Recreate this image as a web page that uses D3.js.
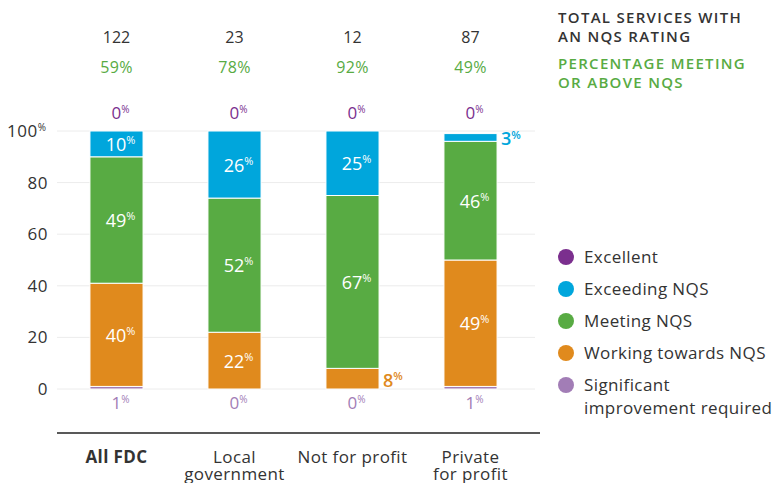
<!DOCTYPE html>
<html>
<head>
<meta charset="utf-8">
<script src="https://cdn.jsdelivr.net/npm/d3@7"></script>
<style>
  body { margin: 0; background: #fff; }
  svg { font-family: "Open Sans", sans-serif; }
</style>
</head>
<body>
<div id="chart"></div>
<script>
var categories = ["All FDC", "Local government", "Not for profit", "Private for profit"];
var catLines = [["All FDC"], ["Local", "government"], ["Not for profit"], ["Private", "for profit"]];
var totals = [122, 23, 12, 87];
var meetingPct = ["59%", "78%", "92%", "49%"];
var seriesNames = ["Significant improvement required", "Working towards NQS", "Meeting NQS", "Exceeding NQS", "Excellent"];
var significant = [1, 0, 0, 1];
var working = [40, 22, 8, 49];
var meeting = [49, 52, 67, 46];
var exceeding = [10, 26, 25, 3];
var excellent = [0, 0, 0, 0];
var yTicks = [0, 20, 40, 60, 80, 100];
var legendItems = ["Excellent", "Exceeding NQS", "Meeting NQS", "Working towards NQS", "Significant"];

var colors = {
    "Excellent": "#7b2f8e",
    "Exceeding NQS": "#00a6dc",
    "Meeting NQS": "#58ab43",
    "Working towards NQS": "#e08a1d",
    "Significant improvement required": "#a27db6"
};

var width = 772, height = 483;
var svg = d3.select("#chart").append("svg")
    .attr("width", width).attr("height", height);

var rows = categories.map(function (c, i) {
    return {
        cat: c,
        "Significant improvement required": significant[i],
        "Working towards NQS": working[i],
        "Meeting NQS": meeting[i],
        "Exceeding NQS": exceeding[i],
        "Excellent": excellent[i]
    };
});

var x = d3.scaleBand().domain(categories).range([57.5, 529.5]).paddingInner(0.55).paddingOuter(0.275);
var y = d3.scaleLinear().domain([0, 100]).range([389, 131]);

// gridlines
svg.append("g").selectAll("line").data(yTicks).enter().append("line")
    .attr("x1", 57).attr("x2", 535)
    .attr("y1", function (d) { return y(d); }).attr("y2", function (d) { return y(d); })
    .attr("stroke", "#ececec").attr("stroke-width", 1);

// y tick labels
var yt = svg.append("g").selectAll("text").data(yTicks).enter().append("text")
    .attr("x", 48)
    .attr("y", function (d) { return y(d) + 6; })
    .attr("text-anchor", "end")
    .attr("font-size", 17).attr("fill", "#333").attr("letter-spacing", 0.5)
    .text(function (d) { return d; });
yt.filter(function (d) { return d === 100; }).append("tspan")
    .attr("font-size", 10).attr("dy", -6).text("%");
yt.filter(function (d) { return d === 100; }).attr("text-anchor", "start").attr("x", 7);

var stack = d3.stack().keys(seriesNames)(rows);

var bw = x.bandwidth();
var groups = svg.append("g").selectAll("g").data(stack).enter().append("g")
    .attr("fill", function (d) { return colors[d.key]; });

groups.selectAll("rect").data(function (d) { return d.map(function (p) { p.key = d.key; return p; }); })
    .enter().append("rect")
    .attr("x", function (d) { return x(d.data.cat); })
    .attr("width", bw)
    .attr("y", function (d) { return y(d[1]); })
    .attr("height", function (d) { return Math.max(0, y(d[0]) - y(d[1])); })
    .attr("stroke", "#fff").attr("stroke-width", 1);

function pctLabel(sel, val, size, supSize) {
    sel.append("tspan").text(val);
    sel.append("tspan").attr("font-size", supSize).attr("dy", -size * 0.38).text("%");
}

// segment labels
stack.forEach(function (s) {
    s.forEach(function (d) {
        var v = d[1] - d[0];
        var key = s.key;
        var cx = x(d.data.cat) + bw / 2;
        if (key === "Excellent") {
            var t = svg.append("text").attr("x", cx + 4).attr("y", 119)
                .attr("text-anchor", "middle").attr("font-size", 17).attr("fill", colors[key]);
            pctLabel(t, v, 17, 10);
        } else if (key === "Significant improvement required") {
            var t2 = svg.append("text").attr("x", cx + 4).attr("y", 409)
                .attr("text-anchor", "middle").attr("font-size", 17).attr("fill", colors[key]);
            pctLabel(t2, v, 17, 10);
        } else if (v < 8.5) {
            var t3 = svg.append("text").attr("x", x(d.data.cat) + bw + 4)
                .attr("y", (y(d[0]) + y(d[1])) / 2 + 8)
                .attr("text-anchor", "start").attr("font-size", 18).attr("font-weight", 600)
                .attr("fill", colors[key]);
            pctLabel(t3, v, 18, 11);
        } else {
            var t4 = svg.append("text").attr("x", cx + 4)
                .attr("y", (y(d[0]) + y(d[1])) / 2 + 7)
                .attr("text-anchor", "middle").attr("font-size", 18).attr("font-weight", 500)
                .attr("fill", "#fff");
            pctLabel(t4, v, 18, 11);
        }
    });
});

// top totals and percentages
svg.append("g").selectAll("text").data(categories).enter().append("text")
    .attr("x", function (d) { return x(d) + bw / 2; }).attr("y", 43)
    .attr("text-anchor", "middle").attr("font-size", 16).attr("fill", "#333")
    .text(function (d, i) { return totals[i]; });
svg.append("g").selectAll("text").data(categories).enter().append("text")
    .attr("x", function (d) { return x(d) + bw / 2; }).attr("y", 73)
    .attr("text-anchor", "middle").attr("font-size", 16).attr("fill", "#58ab43")
    .attr("letter-spacing", 0.4)
    .text(function (d, i) { return meetingPct[i]; });

// x axis line and labels
svg.append("line").attr("x1", 57).attr("x2", 540).attr("y1", 433).attr("y2", 433)
    .attr("stroke", "#222").attr("stroke-width", 1.5);
categories.forEach(function (c, i) {
    var t = svg.append("text").attr("x", x(c) + bw / 2).attr("y", 463)
        .attr("text-anchor", "middle").attr("font-size", 17).attr("fill", "#333")
        .attr("letter-spacing", 0.4)
        .attr("font-weight", i === 0 ? 700 : 400);
    catLines[i].forEach(function (line, j) {
        t.append("tspan").attr("x", x(c) + bw / 2).attr("dy", j === 0 ? 0 : 17).text(line);
    });
});

// header on the right
var hd = svg.append("g").attr("font-size", 15).attr("font-weight", 600).attr("letter-spacing", 1.3);
hd.append("text").attr("x", 558).attr("y", 23).attr("fill", "#333").text("TOTAL SERVICES WITH");
hd.append("text").attr("x", 558).attr("y", 42).attr("fill", "#333").text("AN NQS RATING");
hd.append("text").attr("x", 558).attr("y", 69).attr("fill", "#58ab43").text("PERCENTAGE MEETING");
hd.append("text").attr("x", 558).attr("y", 88).attr("fill", "#58ab43").text("OR ABOVE NQS");

// legend
var legendColors = ["Excellent", "Exceeding NQS", "Meeting NQS", "Working towards NQS", "Significant improvement required"];
var lg = svg.append("g").selectAll("g").data(legendItems).enter().append("g")
    .attr("transform", function (d, i) { return "translate(566," + (257 + i * 32) + ")"; });
lg.append("circle").attr("r", 8).attr("fill", function (d, i) { return colors[legendColors[i]]; });
lg.append("text").attr("x", 18).attr("y", 6).attr("font-size", 17).attr("fill", "#333")
    .attr("letter-spacing", 0.4)
    .text(function (d) { return d; });
svg.append("text").attr("x", 584).attr("y", 414).attr("font-size", 17).attr("fill", "#333")
    .attr("letter-spacing", 0.4)
    .text("improvement required");
</script>
</body>
</html>
